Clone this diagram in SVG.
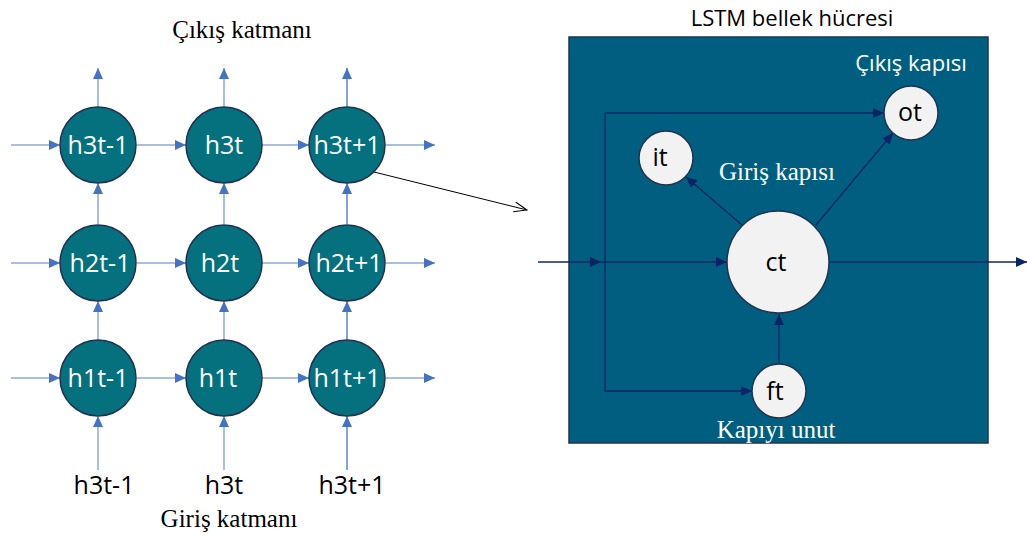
<svg xmlns="http://www.w3.org/2000/svg" width="1027" height="535" viewBox="0 0 1027 535">
<style>
.node{fill:#05717F;stroke:#1F3350;stroke-width:1.5}
.nt{fill:#fff;font-family:"Open Sans",sans-serif;font-size:25px;text-anchor:middle}
.lt{fill:#000;font-family:"Open Sans",sans-serif;font-size:25px;text-anchor:middle}
.gate{fill:#F2F2F2;stroke:#1F3350;stroke-width:1.5}
.gt{fill:#000;font-family:"Open Sans",sans-serif;font-size:25px;text-anchor:middle}
.ser{font-family:"Liberation Serif",serif;font-size:25px;text-anchor:middle}
.bl{stroke:#8EA9DB;stroke-width:1.5;fill:none}
.bl2{stroke:#4472C4;stroke-width:1.3;fill:none}
.dk{stroke:#0C2466;stroke-width:1.3;fill:none}
</style>
<defs>
<marker id="ab" markerUnits="userSpaceOnUse" markerWidth="12" markerHeight="10" refX="11" refY="5" orient="auto"><path d="M0,0 L11,5 L0,10 z" fill="#4472C4"/></marker>
<marker id="ad" markerUnits="userSpaceOnUse" markerWidth="12" markerHeight="10" refX="11" refY="5" orient="auto"><path d="M0,0 L11,5 L0,10 z" fill="#0C2466"/></marker>
<marker id="ao" markerUnits="userSpaceOnUse" markerWidth="14" markerHeight="12" refX="13" refY="6" orient="auto"><path d="M0,1 L13,6 L0,11" fill="none" stroke="#000" stroke-width="1"/></marker>
</defs>
<rect width="1027" height="535" fill="#fff"/>
<g id="box">
<rect x="569" y="37" width="419" height="406" fill="#005F80" stroke="#1F3350" stroke-width="1.5"/>
</g>
<g id="connectors">
<g class="bl" marker-end="url(#ab)">
<line x1="11" y1="145" x2="60" y2="145"/><line x1="137" y1="145" x2="186" y2="145"/><line x1="262" y1="145" x2="309" y2="145"/><line x1="386" y1="145" x2="435" y2="145"/>
<line x1="11" y1="263" x2="60" y2="263"/><line x1="137" y1="263" x2="186" y2="263"/><line x1="262" y1="263" x2="309" y2="263"/><line x1="386" y1="263" x2="435" y2="263"/>
<line x1="11" y1="378" x2="60" y2="378"/><line x1="137" y1="378" x2="186" y2="378"/><line x1="262" y1="378" x2="309" y2="378"/><line x1="386" y1="378" x2="435" y2="378"/>
<line x1="98" y1="107" x2="98" y2="68"/><line x1="224" y1="107" x2="224" y2="68"/>
<line x1="98" y1="224" x2="98" y2="183"/><line x1="224" y1="224" x2="224" y2="183"/>
<line x1="98" y1="340" x2="98" y2="301"/><line x1="224" y1="340" x2="224" y2="301"/>
<line x1="98" y1="470" x2="98" y2="416"/><line x1="224" y1="470" x2="224" y2="416"/>
</g>
<g class="bl2" marker-end="url(#ab)">
<line x1="347" y1="107" x2="347" y2="68"/><line x1="347" y1="224" x2="347" y2="183"/><line x1="347" y1="340" x2="347" y2="301"/><line x1="347" y1="470" x2="347" y2="416"/>
</g>
<line x1="374" y1="172" x2="527" y2="210" stroke="#000" stroke-width="1" marker-end="url(#ao)"/>
<g class="dk">
<line x1="538" y1="262" x2="601" y2="262" marker-end="url(#ad)"/>
<line x1="601" y1="262" x2="727" y2="262" marker-end="url(#ad)"/>
<polyline points="605,113 605,391 752,391" marker-end="url(#ad)"/>
<line x1="605" y1="113" x2="884" y2="113" marker-end="url(#ad)"/>
<line x1="742" y1="225" x2="686" y2="177" marker-end="url(#ad)"/>
<line x1="816" y1="225" x2="893" y2="133" marker-end="url(#ad)"/>
<line x1="779" y1="366" x2="779" y2="314" marker-end="url(#ad)"/>
<line x1="830" y1="262" x2="1027" y2="262" marker-end="url(#ad)"/>
</g>
</g>
<g id="n-h3t-1"><circle class="node" cx="98" cy="145" r="38"/><text class="nt" x="98" y="154">h3t-1</text></g>
<g id="n-h3t"><circle class="node" cx="224" cy="145" r="38"/><text class="nt" x="224" y="154">h3t</text></g>
<g id="n-h3t+1"><circle class="node" cx="347" cy="145" r="38"/><text class="nt" x="347" y="154">h3t+1</text></g>
<g id="n-h2t-1"><circle class="node" cx="98" cy="263" r="38"/><text class="nt" x="100" y="272">h2t-1</text></g>
<g id="n-h2t"><circle class="node" cx="224" cy="263" r="38"/><text class="nt" x="220" y="272">h2t</text></g>
<g id="n-h2t+1"><circle class="node" cx="347" cy="263" r="38"/><text class="nt" x="349" y="272">h2t+1</text></g>
<g id="n-h1t-1"><circle class="node" cx="98" cy="378" r="38"/><text class="nt" x="98" y="387">h1t-1</text></g>
<g id="n-h1t"><circle class="node" cx="224" cy="378" r="38"/><text class="nt" x="218" y="387">h1t</text></g>
<g id="n-h1t+1"><circle class="node" cx="347" cy="378" r="38"/><text class="nt" x="347" y="387">h1t+1</text></g>
<g id="labels">
<text class="lt" x="104" y="494">h3t-1</text>
<text class="lt" x="224" y="494">h3t</text>
<text class="lt" x="352" y="494">h3t+1</text>
<text class="ser" x="229" y="527" fill="#000">Giriş katmanı</text>
<text class="ser" x="242" y="38" fill="#000">Çıkış katmanı</text>
<text x="792" y="26" fill="#000" font-family="'Open Sans',sans-serif" font-size="22" text-anchor="middle">LSTM bellek hücresi</text>
<text x="911" y="71" fill="#fff" font-family="'Open Sans',sans-serif" font-size="22" text-anchor="middle">Çıkış kapısı</text>
<text class="ser" x="777" y="180" fill="#fff" font-size="24">Giriş kapısı</text>
<text class="ser" x="776" y="438" fill="#fff" font-size="24">Kapıyı unut</text>
</g>
<g id="n-ot"><circle class="gate" cx="911" cy="113" r="27"/><text class="gt" x="910" y="121">ot</text></g>
<g id="n-it"><circle class="gate" cx="666" cy="158" r="27"/><text class="gt" x="660" y="166">it</text></g>
<g id="n-ct"><circle class="gate" cx="778" cy="262" r="51"/><text class="gt" x="776" y="271">ct</text></g>
<g id="n-ft"><circle class="gate" cx="779" cy="391" r="27"/><text class="gt" x="775" y="400">ft</text></g>
</svg>
